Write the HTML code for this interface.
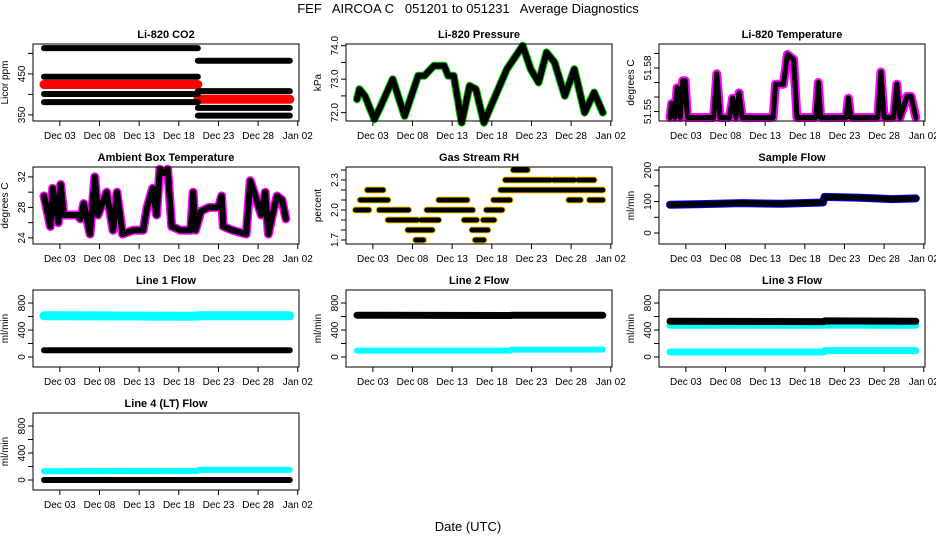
<!DOCTYPE html>
<html><head><meta charset="utf-8"><style>
html,body{margin:0;padding:0;background:#fff}
svg{display:block;font-family:"Liberation Sans",Arial,sans-serif}
</style></head><body>
<svg id="c" width="936" height="540" viewBox="0 0 936 540" xmlns="http://www.w3.org/2000/svg">
<text x="468" y="13" text-anchor="middle" font-size="13" style="white-space:pre" xml:space="preserve">FEF   AIRCOA C   051201 to 051231   Average Diagnostics</text>
<text x="468" y="531" text-anchor="middle" font-size="13">Date (UTC)</text>
</svg>
<script>
// ---- data ----
const xTickDays = [3, 8, 13, 18, 23, 28, 33];
const xTickLabels = ["Dec 03", "Dec 08", "Dec 13", "Dec 18", "Dec 23", "Dec 28", "Jan 02"];

const co2BlackStart = [1, 1, 1, 1, 20.4, 20.4, 20.4, 20.4];
const co2BlackEnd = [20.4, 20.4, 20.4, 20.4, 32, 32, 32, 32];
const co2BlackVal = [513, 443, 401, 381, 482, 408, 367, 348];
const co2RedStart = [1, 20.4];
const co2RedEnd = [20.4, 32];
const co2RedVal = [424, 388];

const presDays = [1, 1.3, 2, 3.2, 4, 5.5, 7, 8.7, 9.5, 10.7, 12, 12.5, 13.2, 14.2, 15.2, 16, 17, 17.9, 19.9, 21.9, 22.9, 23.9, 24.9, 25.9, 27.2, 28.4, 29.7, 30.9, 32];
const presVals = [72.4, 72.7, 72.5, 71.8, 72.2, 73.0, 71.9, 73.1, 73.1, 73.4, 73.4, 73.1, 73.1, 71.7, 72.8, 72.7, 71.7, 72.2, 73.3, 74.0, 73.3, 72.9, 73.8, 73.5, 72.5, 73.3, 72.0, 72.6, 72.0];

const tempDays = [1, 1.2, 1.6, 1.9, 2.3, 2.6, 2.9, 3.2, 3.5, 6.5, 6.9, 7.3, 8.5, 8.9, 9.3, 9.7, 10.1, 10.5, 14, 14.3, 15.3, 15.8, 16.6, 17, 19.4, 19.7, 20, 23.2, 23.5, 23.8, 27.2, 27.6, 28, 29.2, 29.6, 30, 30.9, 31.4, 32];
const tempVals = [51.5459, 51.5555, 51.5459, 51.5664, 51.5459, 51.5712, 51.5712, 51.5459, 51.5459, 51.5459, 51.5760, 51.5459, 51.5459, 51.5592, 51.5459, 51.5628, 51.5459, 51.5459, 51.5459, 51.5688, 51.5688, 51.5893, 51.5857, 51.5459, 51.5459, 51.5700, 51.5459, 51.5459, 51.5592, 51.5459, 51.5459, 51.5772, 51.5459, 51.5459, 51.5688, 51.5459, 51.5604, 51.5604, 51.5459];

const ambDays = [1, 1.8, 2.1, 2.8, 3.1, 3.5, 5.2, 5.6, 6, 6.8, 7.4, 7.8, 8.9, 9.7, 10.2, 10.9, 12.2, 13.5, 14, 14.7, 15.2, 15.6, 16.1, 16.6, 17.1, 18.2, 19.5, 19.8, 20.1, 20.8, 21.8, 23, 23.4, 23.6, 24.8, 26.5, 27, 27.5, 28.4, 28.9, 29.3, 29.8, 30.4, 31, 31.5];
const ambVals = [29.5, 25.5, 30.5, 26, 31, 27, 27, 26.5, 28.5, 24.5, 32, 27, 30, 25, 30, 24.5, 25, 25, 28, 30.5, 27, 33, 32.5, 33, 25.5, 25, 25, 30, 25, 27.5, 28, 28, 29.5, 25.5, 25, 24.5, 31.5, 30, 27, 30, 24.5, 27, 29.5, 29, 26.5];

const rhStart = [0.8, 1.4, 2.3, 4.9, 3.8, 7.4, 8.4, 9.1, 9.8, 11.3, 13.6, 14.5, 15.5, 15.9, 16.9, 17.3, 18.2, 19.1, 19.7, 25.8, 28.9, 20.7, 27.7, 30.3];
const rhEnd = [2.5, 4.9, 4.3, 8.6, 7.5, 10.5, 9.4, 11.3, 13.6, 14.9, 15.6, 16.1, 17.5, 17, 18.3, 19.3, 20.3, 32, 25.4, 28.4, 30.9, 22.5, 29.2, 32];
const rhVals = [2.0, 2.1, 2.2, 1.9, 2.0, 1.8, 1.7, 1.9, 2.0, 2.1, 2.0, 1.9, 1.8, 1.7, 1.9, 2.0, 2.1, 2.2, 2.3, 2.3, 2.3, 2.4, 2.1, 2.1];

const sfDays = [1, 5, 10, 15, 20.3, 20.5, 25, 29, 32];
const sfVals = [90, 92, 95, 93, 97, 115, 112, 108, 110];

const flowDays = [1, 20.4, 20.5, 32];
const line1Cyan = [610, 605, 610, 612];
const line1Black = [100, 100, 100, 100];
const line2Black = [620, 615, 618, 618];
const line2Cyan = [95, 95, 110, 110];
const line3Black = [530, 525, 535, 530];
const line3CyanHi = [470, 470, 475, 470];
const line3CyanLo = [75, 75, 95, 95];
const line4Cyan = [130, 135, 150, 150];
const line4Black = [0, 0, 0, 0];

// ---- layout ----
const NS = "http://www.w3.org/2000/svg";
const svg = document.getElementById("c");
const colLeft = [33, 346, 659], rowTop = [44, 167, 290, 413], W = 266, H = 77;
function mk(tag, attrs, parent) { const e = document.createElementNS(NS, tag); for (const k in attrs) e.setAttribute(k, attrs[k]); (parent || svg).appendChild(e); return e; }

function panel(col, row, title, ylab, lo, hi, ticks, labels, name) {
  const L = colLeft[col], T = rowTop[row];
  const g = mk("g", {});
  
  
  const X = d => L + 11 + (d - 1) * 7.93;
  const Y = v => T + H - (v - lo) / (hi - lo) * H;
  const t = mk("text", { x: L + W / 2, y: T - 6, "text-anchor": "middle", "font-size": 11, "font-weight": "bold" }, g);
  t.textContent = title;
  
  
  const yl = mk("text", { transform: `translate(${L - 25},${T + H / 2}) rotate(-90)`, "text-anchor": "middle", "font-size": 10 }, g);
  yl.textContent = ylab;
  
  
  ticks.forEach((v, i) => {
    const y = Y(v);
    mk("line", { x1: L - 5, x2: L, y1: y, y2: y, stroke: "#000" }, g);
    if (labels[i] !== "") {
      const tl = mk("text", { transform: `translate(${L - 8},${y}) rotate(-90)`, "text-anchor": "middle", "font-size": 10 }, g);
      tl.textContent = labels[i];
      
      
    }
  });
  xTickDays.forEach((d, i) => {
    const x = X(d);
    mk("line", { x1: x, x2: x, y1: T + H, y2: T + H + 5, stroke: "#000" }, g);
    const tl = mk("text", { x: x, y: T + H + 18, "text-anchor": "middle", "font-size": 10 }, g);
    tl.textContent = xTickLabels[i];
    
    
  });
  const clip = mk("g", {}, g);
  const box = mk("rect", { x: L, y: T, width: W, height: H, fill: "none", stroke: "#000" }, g);
  
  
  return { X, Y, g: clip };
}
function series(p, days, vals, color, w, name) {
  const pts = days.map((d, i) => p.X(d).toFixed(1) + "," + p.Y(vals[i]).toFixed(1)).join(" ");
  const e = mk("polyline", { points: pts, fill: "none", stroke: color, "stroke-width": w, "stroke-linejoin": "round", "stroke-linecap": "round" }, p.g);
  
  
}
function bands(p, st, en, vals, color, w, name) {
  st.forEach((s, i) => {
    const e = mk("line", { x1: p.X(s), x2: p.X(en[i]), y1: p.Y(vals[i]), y2: p.Y(vals[i]), stroke: color, "stroke-width": w, "stroke-linecap": "round" }, p.g);
    
    
  });
}

let p = panel(0, 0, "Li-820 CO2", "Licor ppm", 335, 523, [350, 400, 450, 500], ["350", "", "450", ""], "co2");
bands(p, co2RedStart, co2RedEnd, co2RedVal, "#ff0000", 9, "co2-red-band");
bands(p, co2BlackStart, co2BlackEnd, co2BlackVal, "#000", 6, "co2-black-band");

p = panel(1, 0, "Li-820 Pressure", "kPa", 71.75, 74.05, [72, 72.5, 73, 73.5, 74], ["72.0", "", "73.0", "", "74.0"], "pressure");
series(p, presDays, presVals, "#00cc00", 8, "pressure-green-line");
series(p, presDays, presVals, "#000", 6, "pressure-line");

p = panel(2, 0, "Li-820 Temperature", "degrees C", 51.5435, 51.5965, [51.55, 51.56, 51.57, 51.58, 51.59], ["51.55", "", "", "51.58", ""], "li820-temp");
series(p, tempDays, tempVals, "#ff00ff", 9, "temperature-magenta-line");
series(p, tempDays, tempVals, "#000", 5, "temperature-line");

p = panel(0, 1, "Ambient Box Temperature", "degrees C", 23.2, 33.3, [24, 26, 28, 30, 32], ["24", "", "28", "", "32"], "ambient");
series(p, ambDays, ambVals, "#ff00ff", 9, "ambient-magenta-line");
series(p, ambDays, ambVals, "#000", 6, "ambient-line");

p = panel(1, 1, "Gas Stream RH", "percent", 1.66, 2.43, [1.7, 1.8, 1.9, 2.0, 2.1, 2.2, 2.3, 2.4], ["1.7", "", "", "2.0", "", "", "2.3", ""], "rh");
bands(p, rhStart, rhEnd, rhVals, "#ffcc00", 7, "rh-yellow-band");
bands(p, rhStart, rhEnd, rhVals, "#000", 5, "rh-band");

p = panel(2, 1, "Sample Flow", "ml/min", -35, 210, [0, 50, 100, 150, 200], ["0", "", "100", "", "200"], "sample-flow");
series(p, sfDays, sfVals, "#0000ff", 8, "sample-flow-blue-line");
series(p, sfDays, sfVals, "#000", 6, "sample-flow-line");

const fT = [0, 200, 400, 600, 800], fL = ["0", "", "400", "", "800"];
p = panel(0, 2, "Line 1 Flow", "ml/min", -148, 993, fT, fL, "line1-flow");
series(p, flowDays, line1Cyan, "#00ffff", 9, "line1-cyan");
series(p, flowDays, line1Black, "#000", 6, "line1-black");
p = panel(1, 2, "Line 2 Flow", "ml/min", -148, 993, fT, fL, "line2-flow");
series(p, flowDays, line2Cyan, "#00ffff", 6, "line2-cyan");
series(p, flowDays, line2Black, "#000", 7, "line2-black");
p = panel(2, 2, "Line 3 Flow", "ml/min", -148, 993, fT, fL, "line3-flow");
series(p, flowDays, line3CyanHi, "#00ffff", 7, "line3-cyan-high");
series(p, flowDays, line3CyanLo, "#00ffff", 7, "line3-cyan-low");
series(p, flowDays, line3Black, "#000", 7, "line3-black");
p = panel(0, 3, "Line 4 (LT) Flow", "ml/min", -148, 993, fT, fL, "line4-flow");
series(p, flowDays, line4Cyan, "#00ffff", 6, "line4-cyan");
series(p, flowDays, line4Black, "#000", 6, "line4-black");
</script>
</body></html>
